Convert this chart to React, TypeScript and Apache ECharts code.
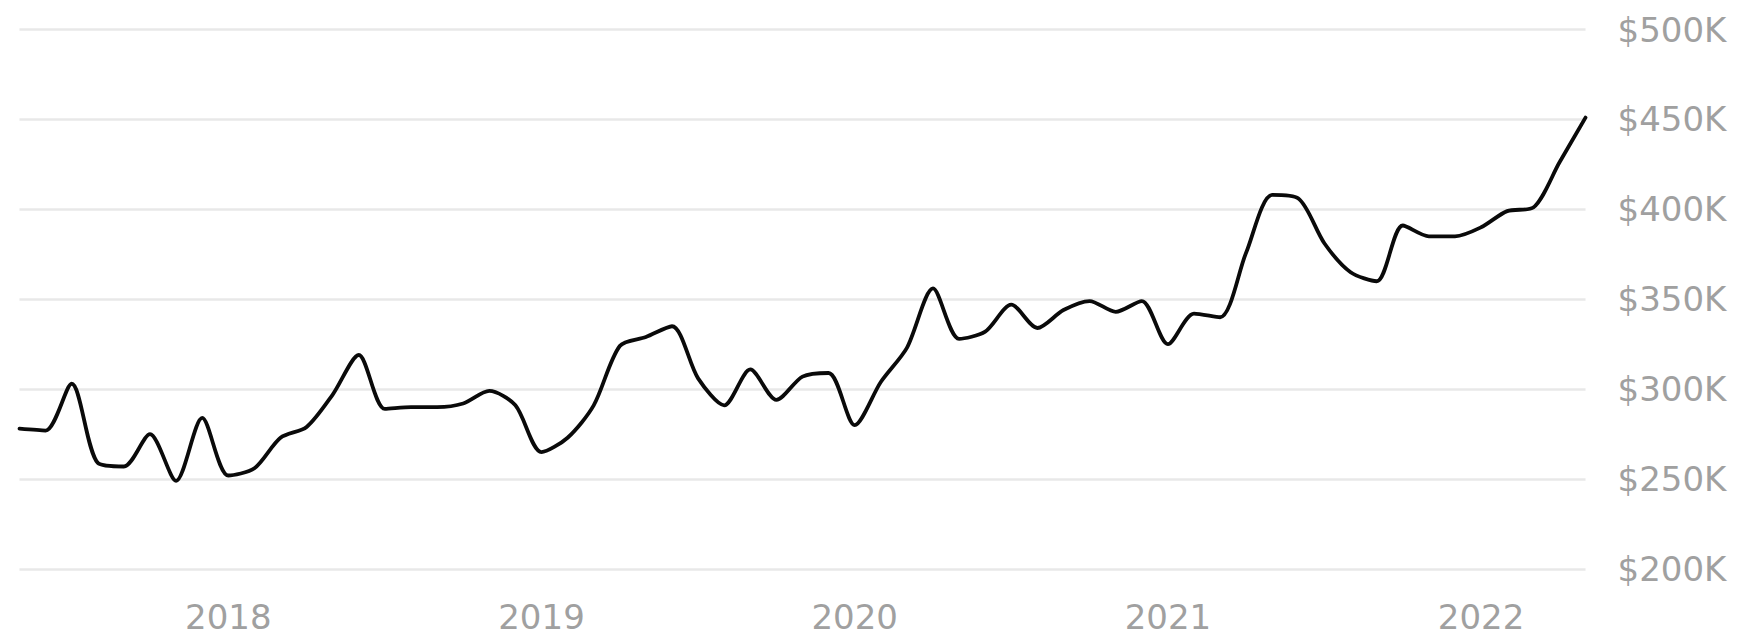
import React, { useEffect, useRef } from "react";
import * as echarts from "echarts";

// Monthly median sale price, May 2017 – May 2022 (in $K)
const months: string[] = [
  "2017-05", "2017-06", "2017-07", "2017-08", "2017-09", "2017-10", "2017-11", "2017-12",
  "2018-01", "2018-02", "2018-03", "2018-04", "2018-05", "2018-06", "2018-07", "2018-08",
  "2018-09", "2018-10", "2018-11", "2018-12",
  "2019-01", "2019-02", "2019-03", "2019-04", "2019-05", "2019-06", "2019-07", "2019-08",
  "2019-09", "2019-10", "2019-11", "2019-12",
  "2020-01", "2020-02", "2020-03", "2020-04", "2020-05", "2020-06", "2020-07", "2020-08",
  "2020-09", "2020-10", "2020-11", "2020-12",
  "2021-01", "2021-02", "2021-03", "2021-04", "2021-05", "2021-06", "2021-07", "2021-08",
  "2021-09", "2021-10", "2021-11", "2021-12",
  "2022-01", "2022-02", "2022-03", "2022-04", "2022-05",
];

const priceK: number[] = [
  278, 277, 303, 259, 257, 275, 249, 284,
  252, 256, 273, 279, 297, 319, 289, 290, 290, 292, 299, 291,
  265, 273, 291, 324, 329, 335, 306, 291, 311, 294, 307, 309,
  280, 304, 323, 356, 328, 332, 347, 334, 344, 349, 343, 349,
  325, 342, 340, 376, 408, 406, 381, 365, 360, 391, 385, 385,
  390, 399, 401, 426, 451,
];

// Price axis range and step (in dollars)
const yMin = 200000;
const yMax = 500000;
const yStep = 50000;

const labelColor = "#a0a0a0";
const labelFont = "'DejaVu Sans', 'Open Sans', sans-serif";

export default function App() {
  const ref = useRef<HTMLDivElement>(null);

  useEffect(() => {
    if (!ref.current) return;
    const chart = echarts.init(ref.current, undefined, { renderer: "svg" });
    chart.setOption({
      animation: false,
      backgroundColor: "#ffffff",
      grid: { left: 19.5, right: 155.5, top: 29.5, bottom: 67 },
      xAxis: {
        type: "category",
        data: months,
        boundaryGap: false,
        axisLine: { show: false },
        axisTick: { show: false },
        splitLine: { show: false },
        axisLabel: {
          interval: (idx: number, val: string) => val.endsWith("-01"),
          formatter: (val: string) => val.slice(0, 4),
          color: labelColor,
          fontFamily: labelFont,
          fontSize: 34,
          lineHeight: 34,
          margin: 31,
        },
      },
      yAxis: {
        type: "value",
        position: "right",
        min: yMin,
        max: yMax,
        interval: yStep,
        axisLine: { show: false },
        axisTick: { show: false },
        splitLine: { show: true, lineStyle: { color: "#e8e8e8", width: 2.5 } },
        axisLabel: {
          formatter: (v: number) => "$" + Math.round(v / 1000) + "K",
          color: labelColor,
          fontFamily: labelFont,
          fontSize: 34,
          margin: 32,
        },
      },
      series: [
        {
          type: "line",
          data: priceK.map((v) => v * 1000),
          smooth: 0.28,
          symbol: "none",
          lineStyle: { color: "#0a0a0a", width: 3.8, join: "round", cap: "round" },
        },
      ],
    });
    return () => chart.dispose();
  }, []);

  return (
    <div
      ref={ref}
      style={{ position: "fixed", left: 0, top: 0, width: 1741, height: 636 }}
    />
  );
}
